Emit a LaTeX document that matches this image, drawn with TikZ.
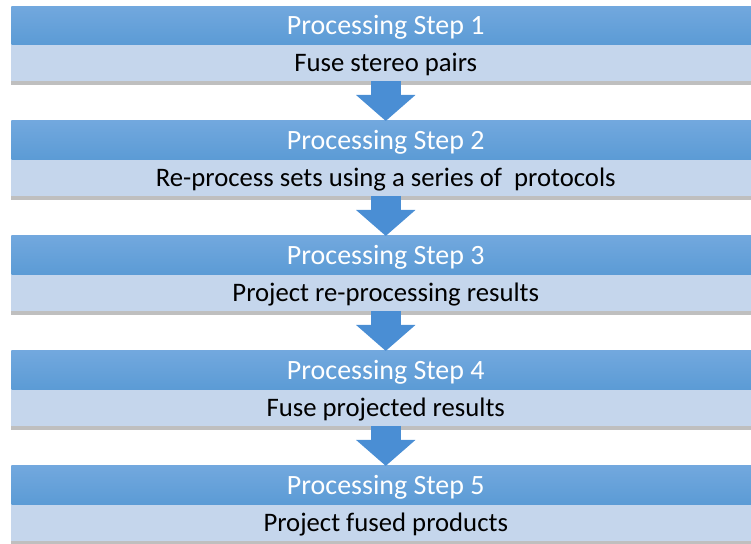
\documentclass[tikz,border=0pt]{standalone}
\usepackage{fontspec}
\setmainfont{Carlito}
\usetikzlibrary{positioning,shadows,arrows.meta}
\definecolor{headblue}{RGB}{91,155,213}
\definecolor{headtop}{RGB}{114,168,222}
\definecolor{bodyblue}{RGB}{197,214,236}
\definecolor{arrblue}{RGB}{74,142,212}

\begin{document}
\begin{tikzpicture}[
    x=0.02cm, y=-0.02cm,
    node distance=0.8cm,
    head/.style={minimum width=14.98cm, minimum height=0.78cm, inner sep=0pt, outer sep=0pt, top color=headtop, bottom color=headblue, text=white, text height=0.36cm, text depth=0pt, font=\fontsize{15.9}{18}\selectfont},
    body/.style={minimum width=14.98cm, minimum height=0.72cm, inner sep=0pt, outer sep=0pt, fill=bodyblue, text height=0.34cm, text depth=0pt, font=\fontsize{15.2}{18}\selectfont, drop shadow={shadow xshift=0cm, shadow yshift=-0.08cm, opacity=0.5}},
    arr/.style={-{Triangle[length=0.52cm, width=1.16cm]}, line width=0.6cm, draw=arrblue}
]
    \clip (0,0) rectangle (751,544);

    % Step boxes
    \node[head] (step1) at (385.75,25.5) {Processing Step 1};
    \node[body, below=0pt of step1] (task1) {Fuse stereo pairs};
    \node[head, below=of task1] (step2) {Processing Step 2};
    \node[body, below=0pt of step2] (task2) {Re-process sets using a series of \ protocols};
    \node[head, below=of task2] (step3) {Processing Step 3};
    \node[body, below=0pt of step3] (task3) {Project re-processing results};
    \node[head, below=of task3] (step4) {Processing Step 4};
    \node[body, below=0pt of step4] (task4) {Fuse projected results};
    \node[head, below=of task4] (step5) {Processing Step 5};
    \node[body, below=0pt of step5] (task5) {Project fused products};

    % Down arrows
    \draw[arr] (task1) -- (step2);
    \draw[arr] (task2) -- (step3);
    \draw[arr] (task3) -- (step4);
    \draw[arr] (task4) -- (step5);
\end{tikzpicture}
\end{document}
